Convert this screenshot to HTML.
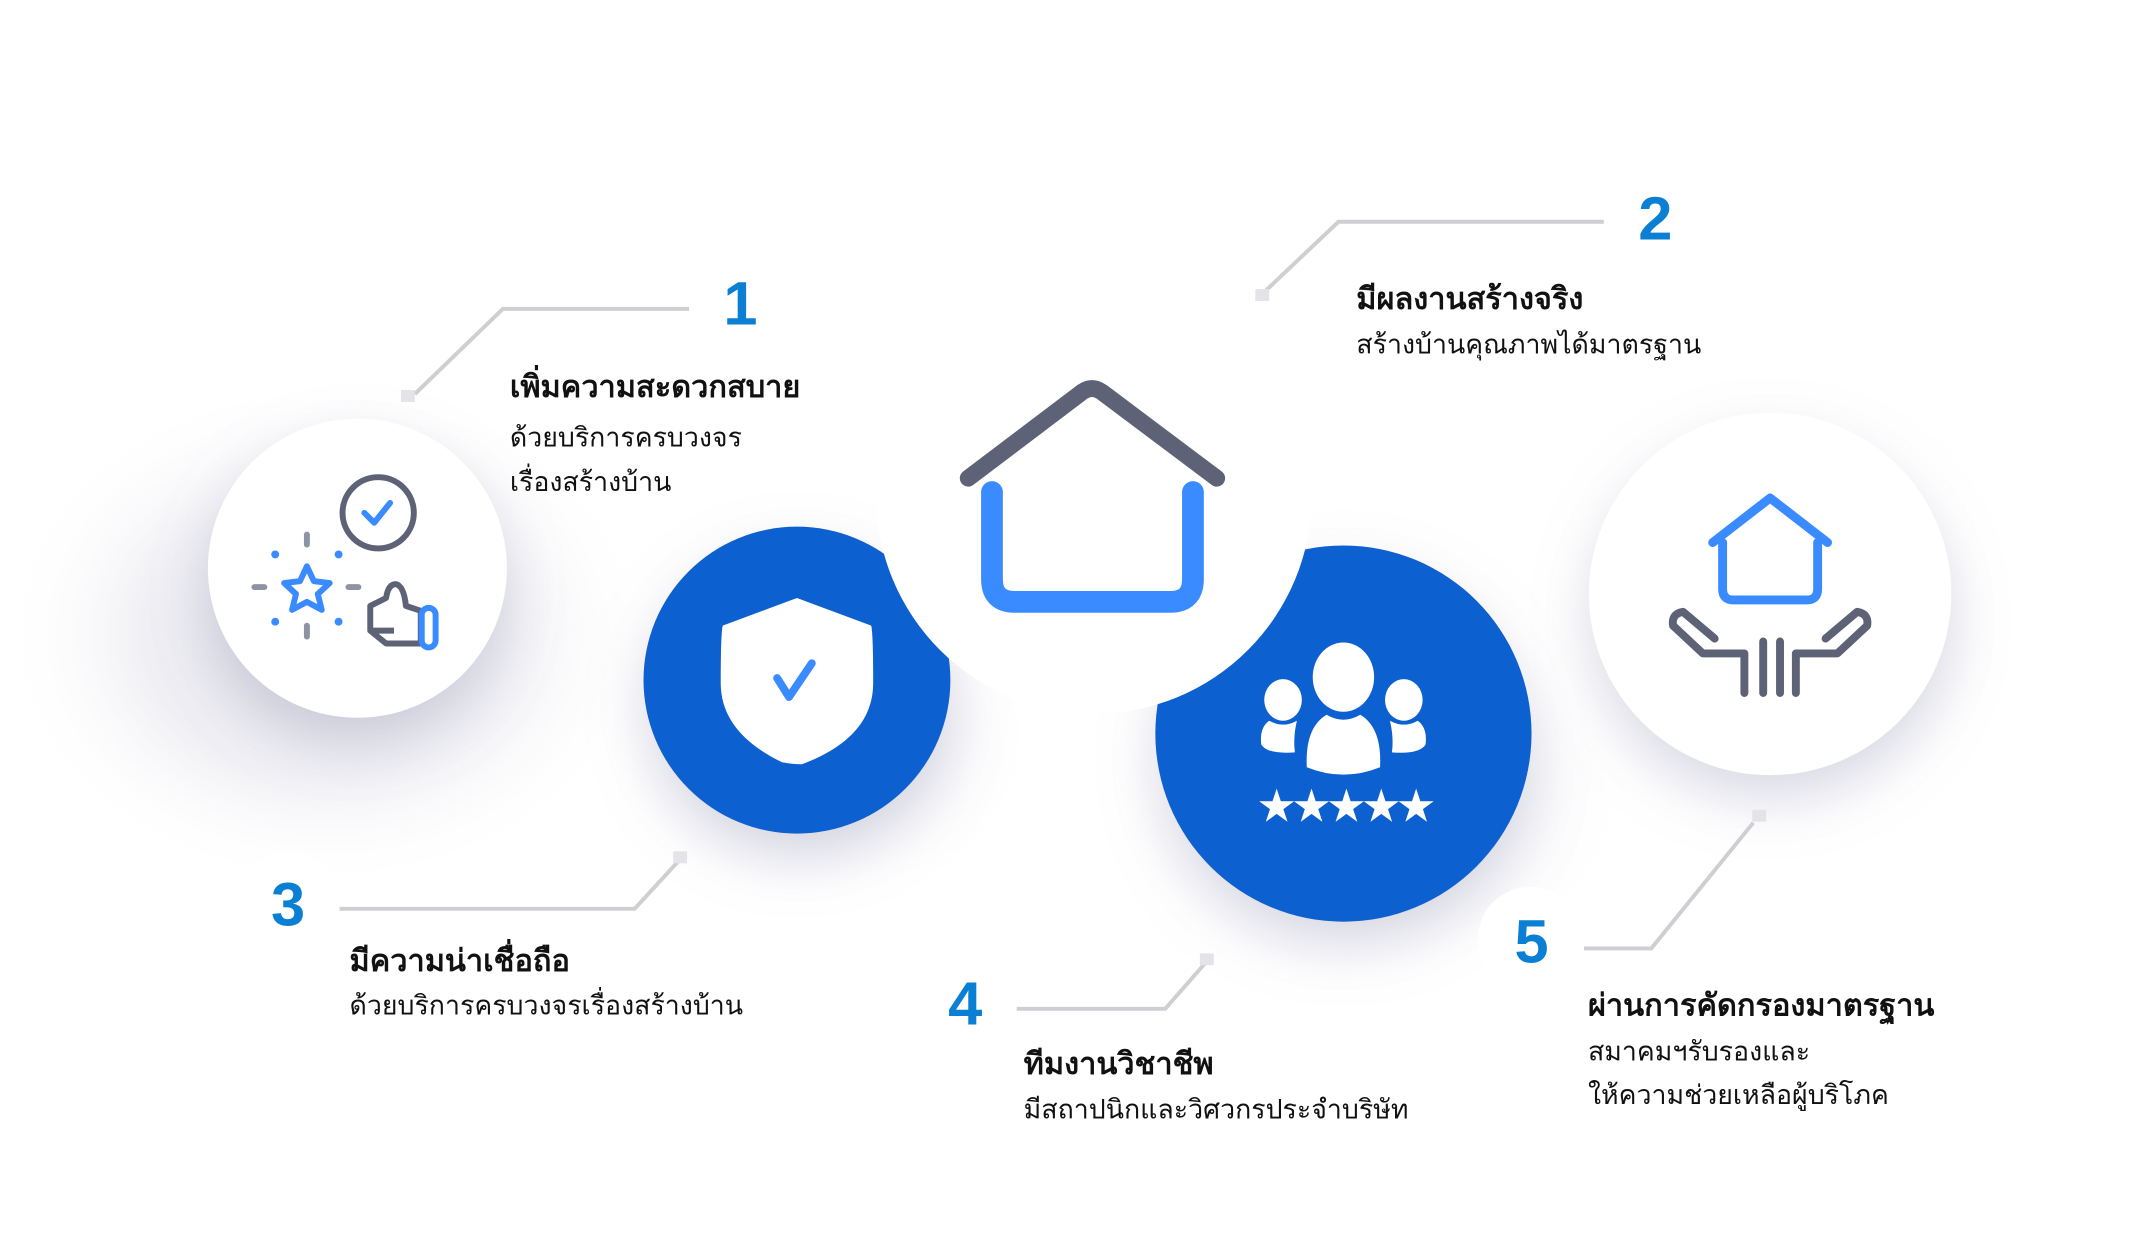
<!DOCTYPE html>
<html><head><meta charset="utf-8"><style>
html,body{margin:0;padding:0;background:#fff;}
svg{display:block}
text{font-family:"Liberation Sans","DejaVu Sans",sans-serif;}
</style></head><body>
<svg width="2131" height="1257" viewBox="0 0 2131 1257" xmlns="http://www.w3.org/2000/svg">
<defs>
<radialGradient id="g1" cx="0.5" cy="0.5" r="0.5">
<stop offset="0" stop-color="#c9c9d8" stop-opacity="0.75"/>
<stop offset="0.55" stop-color="#dcdce6" stop-opacity="0.45"/>
<stop offset="1" stop-color="#ffffff" stop-opacity="0"/>
</radialGradient>
<filter id="sh" x="-50%" y="-50%" width="200%" height="200%">
<feDropShadow dx="0" dy="25" stdDeviation="28" flood-color="#9a9ab8" flood-opacity="0.35"/>
</filter>
</defs>
<g transform="scale(0.99)">
<ellipse cx="330" cy="640" rx="330" ry="260" fill="url(#g1)"/>
<ellipse cx="1390" cy="800" rx="260" ry="200" fill="url(#g1)" opacity="0.6"/>
<ellipse cx="830" cy="740" rx="220" ry="180" fill="url(#g1)" opacity="0.6"/>
<ellipse cx="1810" cy="640" rx="230" ry="200" fill="url(#g1)" opacity="0.5"/>

<circle cx="361" cy="574" r="151" fill="#fff" filter="url(#sh)"/>
<circle cx="1788" cy="600" r="183" fill="#fff" filter="url(#sh)"/>
<circle cx="805" cy="687" r="155" fill="#1160CF" filter="url(#sh)"/>
<circle cx="1357" cy="741" r="190" fill="#1160CF" filter="url(#sh)"/>
<circle cx="1105" cy="501" r="220" fill="#fff"/>

<path d="M1002 497 V585 Q1002 608 1025 608 H1182 Q1205 608 1205 585 V497" fill="none" stroke="#3A8BFF" stroke-width="22" stroke-linecap="round" stroke-linejoin="round"/>
<path d="M978 483 L1093 396 Q1103 389 1113 396 L1229 483" fill="none" stroke="#5D6276" stroke-width="17" stroke-linecap="round" stroke-linejoin="round"/>

<path d="M805 604 L880 632 Q882 640 882 690 Q882 745 810 772 Q800 772 790 770 Q728 740 728 690 Q728 640 730 632 Z" fill="#fff"/>
<path d="M785 685 L797 704 L820 670" fill="none" stroke="#3A8BFF" stroke-width="8" stroke-linecap="round" stroke-linejoin="round"/>

<g fill="#fff">
<ellipse cx="1357" cy="684" rx="31" ry="35"/>
<path d="M1320 775 Q1318 735 1340 722 Q1357 732 1374 722 Q1396 735 1394 775 Q1357 790 1320 775 Z"/>
<ellipse cx="1296" cy="707" rx="19" ry="21"/>
<path d="M1274 752 Q1272 735 1282 728 Q1296 736 1310 728 Q1306 745 1308 760 Q1280 762 1274 752 Z"/>
<ellipse cx="1418" cy="707" rx="19" ry="21"/>
<path d="M1440 752 Q1442 735 1432 728 Q1418 736 1404 728 Q1408 745 1406 760 Q1434 762 1440 752 Z"/>
<text x="1357" y="830" font-size="46" text-anchor="middle" fill="#fff" letter-spacing="-6">★★★★★</text>
</g>

<circle cx="382" cy="518" r="36" fill="none" stroke="#5D6276" stroke-width="6"/>
<path d="M368 518 L378 528 L394 508" fill="none" stroke="#3A8BFF" stroke-width="6" stroke-linecap="round" stroke-linejoin="round"/>
<path d="M310 572 L317 587 L333 589 L321 600 L325 616 L310 608 L295 616 L299 600 L287 589 L303 587 Z" fill="none" stroke="#3A8BFF" stroke-width="6" stroke-linejoin="round"/>
<g stroke="#8E93A4" stroke-width="6" stroke-linecap="round">
<line x1="310" y1="540" x2="310" y2="550"/><line x1="310" y1="632" x2="310" y2="643"/>
<line x1="257" y1="593" x2="267" y2="593"/><line x1="352" y1="593" x2="362" y2="593"/>
</g>
<g fill="#3A8BFF"><circle cx="278" cy="560" r="4"/><circle cx="342" cy="560" r="4"/><circle cx="278" cy="628" r="4"/><circle cx="342" cy="628" r="4"/></g>
<path d="M398 637 L374 637 L374 612 L390 604 Q392 590 400 590 Q408 592 410 612 L425 617 L425 650 L390 650 L374 637" fill="none" stroke="#5D6276" stroke-width="6" stroke-linejoin="round"/>
<rect x="426" y="614" width="14" height="40" rx="7" fill="none" stroke="#3A8BFF" stroke-width="6"/>

<path d="M1740 548 V595 Q1740 606 1751 606 H1825 Q1836 606 1836 595 V548" fill="none" stroke="#3A8BFF" stroke-width="9" stroke-linecap="round"/>
<path d="M1730 548 L1788 503 L1846 548" fill="none" stroke="#3A8BFF" stroke-width="9" stroke-linecap="round" stroke-linejoin="round"/>
<g fill="none" stroke="#5D6276" stroke-width="8" stroke-linecap="round" stroke-linejoin="round">
<path d="M1762 700 V660 H1720 L1690 632 Q1688 620 1700 618 L1732 645"/>
<path d="M1781 700 V648"/>
<path d="M1798 700 V648"/>
<path d="M1814 700 V660 H1856 L1886 632 Q1888 620 1876 618 L1844 645"/>
</g>

<g fill="none" stroke="#cfcfd3" stroke-width="4">
<polyline points="696,312 508,312 419,398"/>
<polyline points="1620,224 1352,224 1277,295"/>
<polyline points="343,918 641,918 687,868"/>
<polyline points="1027,1019 1177,1019 1219,971"/>
<polyline points="1600,958 1668,958 1771,831"/>
</g>
<g fill="#e4e4e8">
<rect x="405" y="394" width="14" height="12"/>
<rect x="1268" y="292" width="14" height="12"/>
<rect x="680" y="860" width="14" height="12"/>
<rect x="1212" y="963" width="14" height="12"/>
<rect x="1770" y="818" width="14" height="12"/>
</g>

<circle cx="291" cy="913" r="52" fill="#fff"/>
<circle cx="1545" cy="948" r="52" fill="#fff"/>
<g fill="#0A7FD4" font-weight="bold" font-size="62" text-anchor="middle">
<text x="748" y="328">1</text>
<text x="1672" y="242">2</text>
<text x="291" y="935">3</text>
<text x="975" y="1035">4</text>
<text x="1547" y="972">5</text>
</g>

<g fill="#111">
<text x="515" y="401" font-size="31" font-weight="bold">เพิ่มความสะดวกสบาย</text>
<text x="515" y="451" font-size="27">ด้วยบริการครบวงจร</text>
<text x="515" y="496" font-size="27">เรื่องสร้างบ้าน</text>
<text x="1370" y="312" font-size="31" font-weight="bold">มีผลงานสร้างจริง</text>
<text x="1370" y="357" font-size="27">สร้างบ้านคุณภาพได้มาตรฐาน</text>
<text x="353" y="981" font-size="31" font-weight="bold">มีความน่าเชื่อถือ</text>
<text x="353" y="1025" font-size="27">ด้วยบริการครบวงจรเรื่องสร้างบ้าน</text>
<text x="1034" y="1085" font-size="31" font-weight="bold">ทีมงานวิชาชีพ</text>
<text x="1034" y="1130" font-size="27">มีสถาปนิกและวิศวกรประจำบริษัท</text>
<text x="1604" y="1026" font-size="31" font-weight="bold">ผ่านการคัดกรองมาตรฐาน</text>
<text x="1604" y="1071" font-size="27">สมาคมฯรับรองและ</text>
<text x="1604" y="1115" font-size="27">ให้ความช่วยเหลือผู้บริโภค</text>
</g>
</g>
</svg>
</body></html>
